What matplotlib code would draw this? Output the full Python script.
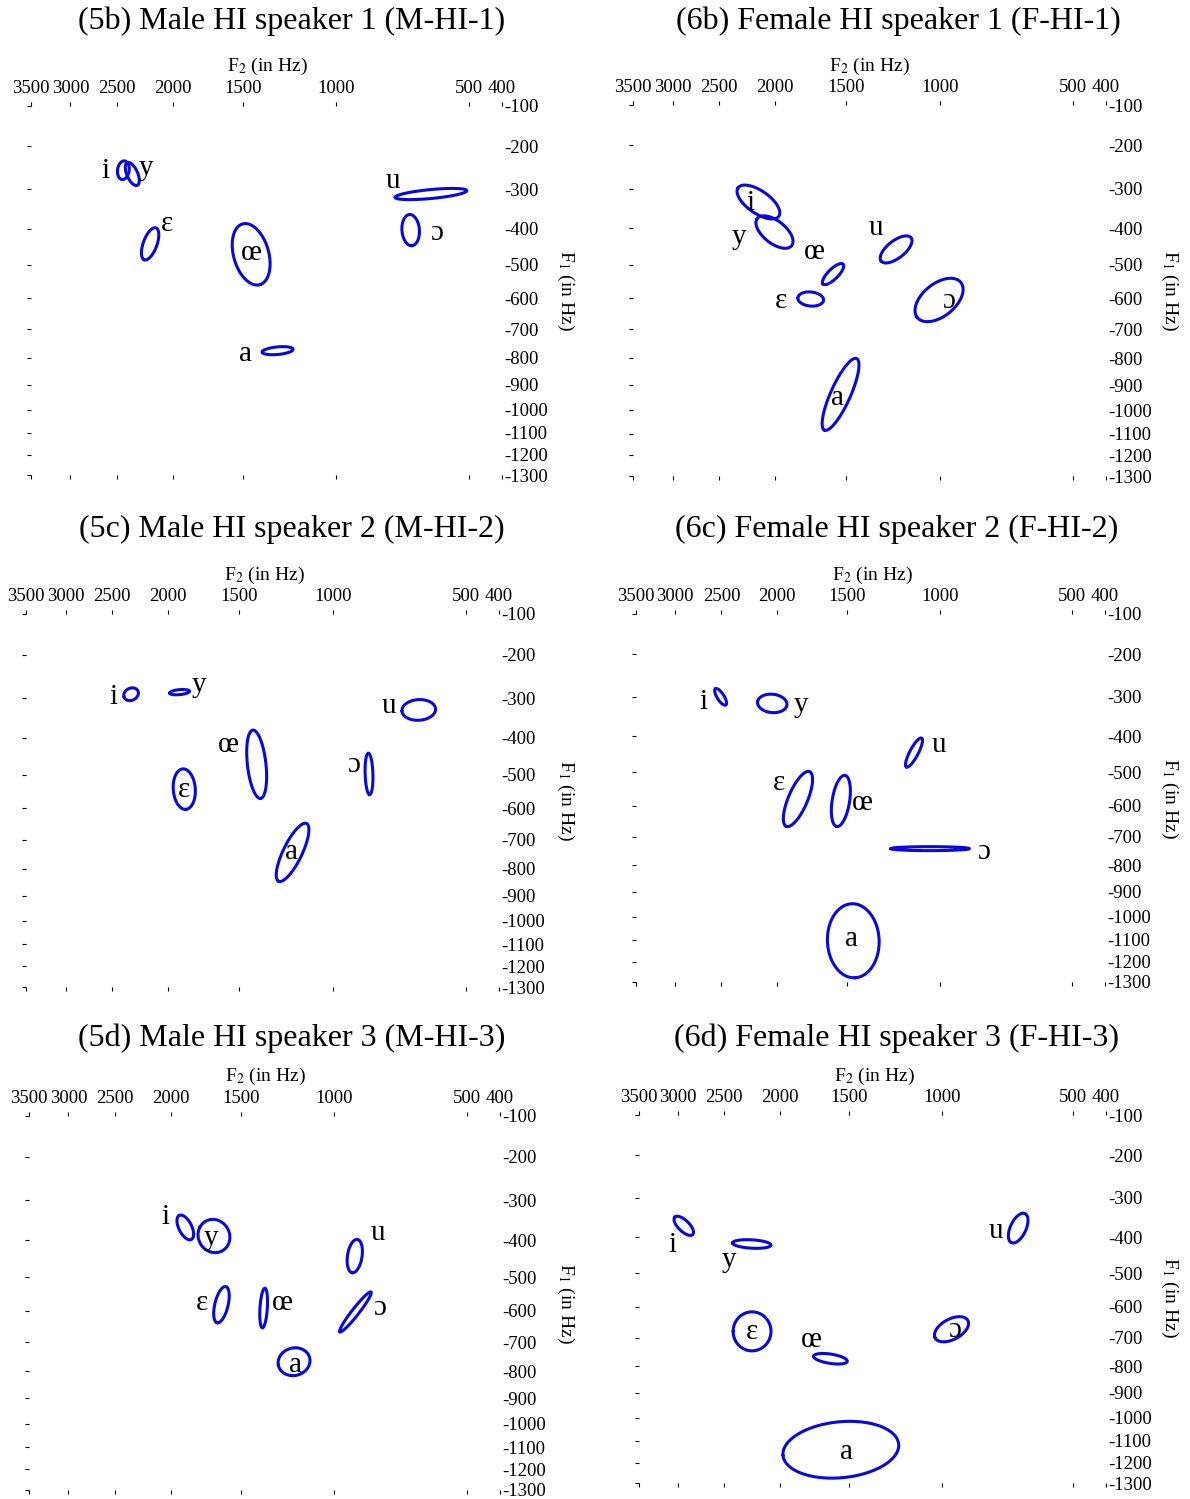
import numpy as np
import matplotlib
matplotlib.use('Agg')
import matplotlib.pyplot as plt

plt.rcParams['font.family'] = ['Liberation Serif', 'DejaVu Serif']
plt.rcParams['mathtext.fontset'] = 'stix'

# ---------------- data ----------------
VOWELS = ['i', 'y', 'ε', 'œ', 'a', 'u', 'ɔ']
F2_TICKS = [3500, 3000, 2500, 2000, 1500, 1000, 500, 400]
F2_TICK_LABELS = ['3500', '3000', '2500', '2000', '1500', '1000', '500', '400']
F1_TICKS = [100, 200, 300, 400, 500, 600, 700, 800, 900, 1000, 1100, 1200, 1300]
F1_TICK_LABELS = ['-100', '-200', '-300', '-400', '-500', '-600', '-700', '-800',
                  '-900', '-1000', '-1100', '-1200', '-1300']

TITLES = ['(5b) Male HI speaker 1 (M-HI-1)', '(6b) Female HI speaker 1 (F-HI-1)',
          '(5c) Male HI speaker 2 (M-HI-2)', '(6c) Female HI speaker 2 (F-HI-2)',
          '(5d) Male HI speaker 3 (M-HI-3)', '(6d) Female HI speaker 3 (F-HI-3)']

# vowel order: i, y, ε, œ, a, u, ɔ ; centres in Hz, ellipse semi-axes in Bark, angle in deg
F2_M1 = [2436, 2351, 2190, 1450, 1296, 625, 697]
F1_M1 = [255, 264, 441, 470, 774, 312, 404]
MAJ_M1 = [0.234, 0.312, 0.429, 0.792, 0.416, 0.965, 0.39]
MIN_M1 = [0.156, 0.143, 0.182, 0.468, 0.095, 0.112, 0.234]
ANG_M1 = [80, -64, 68, 108, 5, 5, 95]

F2_F1 = [2140, 2007, 1734, 1582, 1534, 1213, 1003]
F1_F1 = [333, 410, 602, 527, 936, 457, 605]
MAJ_F1 = [0.649, 0.571, 0.345, 0.364, 0.987, 0.494, 0.727]
MIN_F1 = [0.286, 0.286, 0.175, 0.13, 0.26, 0.221, 0.416]
ANG_F1 = [-32, -35, -5, 42, 64, 35, 35]

F2_M2 = [2320, 1912, 1876, 1393, 1195, 656, 844]
F1_M2 = [291, 286, 542, 471, 743, 329, 498]
MAJ_M2 = [0.2, 0.268, 0.501, 0.849, 0.805, 0.45, 0.512]
MIN_M2 = [0.151, 0.062, 0.294, 0.247, 0.247, 0.255, 0.104]
ANG_M2 = [20, 5, 95, 97, 62, 3, 92]

F2_F2 = [2508, 2040, 1838, 1540, 1462, 1125, 1047]
F1_F2 = [300, 316, 579, 585, 1104, 444, 741]
MAJ_F2 = [0.247, 0.397, 0.753, 0.649, 0.927, 0.416, 1.06]
MIN_F2 = [0.091, 0.23, 0.255, 0.234, 0.696, 0.112, 0.05]
ANG_F2 = [-55, -5, 65, 80, 93, 60, 0]

F2_M3 = [1886, 1678, 1627, 1364, 1197, 910, 907]
F1_M3 = [367, 389, 581, 591, 766, 442, 603]
MAJ_M3 = [0.338, 0.436, 0.46, 0.488, 0.43, 0.416, 0.644]
MIN_M3 = [0.169, 0.4, 0.177, 0.099, 0.34, 0.195, 0.091]
ANG_M3 = [-60, -30, 75, 86, 10, 80, 49.5]

F2_F3 = [2934, 2238, 2235, 1623, 1554, 687, 956]
F1_F3 = [370, 418, 679, 773, 1140, 376, 672]
MAJ_F3 = [0.327, 0.52, 0.512, 0.46, 1.57, 0.408, 0.494]
MIN_F3 = [0.143, 0.105, 0.488, 0.117, 0.7, 0.208, 0.26]
ANG_F3 = [-41, -3, 0, -8, 5, 62, 25]

# ---------------- layout (pixels) ----------------
W, H = 1190, 1499
BOXES = [(31, 106, 502, 475), (633, 105, 1106, 476),
         (26, 614, 499, 987), (636, 614, 1105, 982),
         (29, 1116, 500, 1490), (639, 1115, 1106, 1483)]
TITLE_POS = [(292, 21), (898, 21), (292, 529), (897, 529), (292, 1038), (897, 1038)]
F2LAB_POS = [(267, 66), (869, 66), (264, 575), (872, 575), (265, 1076), (874, 1076)]
F1LAB_POS = [(566, 290), (1170, 290), (566, 800), (1170, 798), (566, 1303), (1170, 1297)]
LABEL_OFFSETS = [
    [(-18, -1), (14, 6), (17, 20), (0, 1), (-32, -3), (-38, 13), (26, -3)],
    [(-8, -1), (-36, -5), (-30, -2), (-19, 22), (-3, -4), (-20, 21), (10, -1)],
    [(-18, -3), (19, 7), (0, -1), (-28, 19), (-1, 0), (-30, 4), (-15, 9)],
    [(-17, -5), (29, -2), (-19, 16), (22, -2), (-2, 2), (25, 8), (54, -3)],
    [(-20, 10), (-3, -2), (-19, 2), (19, 5), (1, -3), (23, 23), (24, 4)],
    [(-11, -19), (-23, -16), (0, -1), (-19, 19), (6, -2), (-22, -3), (3, -1)],
]
COLOR = '#0808e0'


# F2 axis: Bark (Schroeder) ; F1 axis: Bark (Traunmueller, low-frequency corrected)
def bark_x(f):
    return 7.0 * np.arcsinh(np.asarray(f, dtype=float) / 650.0)


def inv_bark_x(z):
    return 650.0 * np.sinh(np.asarray(z, dtype=float) / 7.0)


def bark_y(f):
    f = np.asarray(f, dtype=float)
    with np.errstate(all='ignore'):
        z = 26.81 * f / (1960.0 + f) - 0.53
    return np.where(z < 2, z + 0.15 * (2 - z), z)


def inv_bark_y(z):
    z = np.asarray(z, dtype=float)
    z0 = np.where(z < 2, (z - 0.3) / 0.85, z)
    with np.errstate(all='ignore'):
        return 1960.0 * (z0 + 0.53) / (26.28 - z0)


PANELS = [
    (F2_M1, F1_M1, MAJ_M1, MIN_M1, ANG_M1),
    (F2_F1, F1_F1, MAJ_F1, MIN_F1, ANG_F1),
    (F2_M2, F1_M2, MAJ_M2, MIN_M2, ANG_M2),
    (F2_F2, F1_F2, MAJ_F2, MIN_F2, ANG_F2),
    (F2_M3, F1_M3, MAJ_M3, MIN_M3, ANG_M3),
    (F2_F3, F1_F3, MAJ_F3, MIN_F3, ANG_F3),
]

fig = plt.figure(figsize=(W / 100, H / 100), dpi=100)
t = np.linspace(0, 2 * np.pi, 400)

for k, (f2s, f1s, majs, mins, angs) in enumerate(PANELS):
    l, tp, r, b = BOXES[k]
    ax = fig.add_axes([l / W, 1 - b / H, (r - l) / W, (b - tp) / H])
    ax.set_xscale('function', functions=(bark_x, inv_bark_x))
    ax.set_yscale('function', functions=(bark_y, inv_bark_y))
    for f2, f1, a, bb, ang, v, off in zip(f2s, f1s, majs, mins, angs, VOWELS, LABEL_OFFSETS[k]):
        th = np.deg2rad(ang)
        dx = a * np.cos(t) * np.cos(th) - bb * np.sin(t) * np.sin(th)
        dy = a * np.cos(t) * np.sin(th) + bb * np.sin(t) * np.cos(th)
        ax.plot(inv_bark_x(bark_x(f2) + dx), inv_bark_y(bark_y(f1) + dy), color=COLOR,
                lw=2.2, solid_capstyle='round')
        ax.annotate(v, (f2, f1), xytext=off, textcoords='offset pixels',
                    ha='center', va='center', fontsize=21, color='black')
    ax.set_xlim(3500, 400)
    ax.set_ylim(1300, 100)
    ax.set_xticks(F2_TICKS)
    ax.set_xticklabels(F2_TICK_LABELS)
    ax.set_yticks(F1_TICKS)
    ax.set_yticklabels(F1_TICK_LABELS)
    ax.minorticks_off()
    ax.tick_params(axis='x', top=True, bottom=True, labeltop=True, labelbottom=False,
                   direction='out', length=3, width=0.8, pad=3.5, labelsize=13.5)
    ax.tick_params(axis='y', left=True, right=False, labelleft=False, labelright=True,
                   direction='out', length=3, width=0.8, pad=-1.5, labelsize=13.5)
    for s in ax.spines.values():
        s.set_visible(False)
    ax.patch.set_alpha(0)

    tx, ty = TITLE_POS[k]
    fig.text(tx / W, 1 - ty / H, TITLES[k], ha='center', va='center', fontsize=23)
    fx, fy = F2LAB_POS[k]
    fig.text(fx / W, 1 - fy / H, 'F$_2$ (in Hz)', ha='center', va='center', fontsize=14)
    gx, gy = F1LAB_POS[k]
    fig.text(gx / W, 1 - gy / H, 'F$_1$ (in Hz)', ha='center', va='center', fontsize=14,
             rotation=270)

fig.savefig('out.png', dpi=100)
